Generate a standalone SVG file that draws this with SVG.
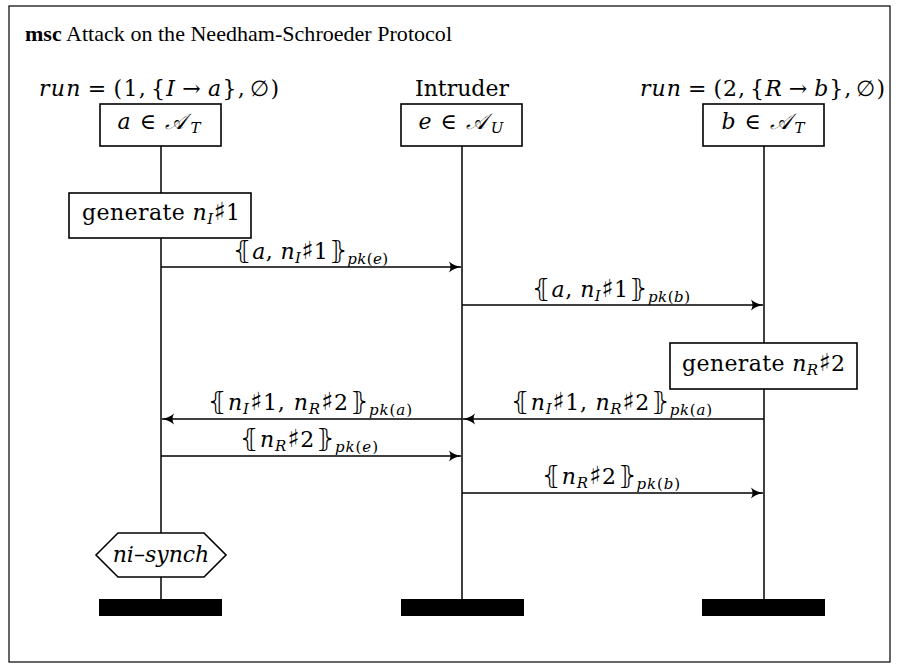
<svg xmlns="http://www.w3.org/2000/svg" width="902" height="666" viewBox="0 0 902 666">
<defs>
<marker id="arr" markerUnits="userSpaceOnUse" markerWidth="16" markerHeight="14" viewBox="-14 -7 16 14" refX="0" refY="0" orient="auto" overflow="visible">
<path d="M-12,-5.5 C-8,-2.2 -4,-0.7 0,0 C-4,0.7 -8,2.2 -12,5.5 C-10,2 -10,-2 -12,-5.5 Z" fill="#000"/>
</marker>
</defs>
<style>
text{font-family:"DejaVu Serif","Liberation Serif",serif;font-size:22px;fill:#000}
.title{font-family:"Liberation Serif","DejaVu Serif",serif}
.i{font-style:italic}
.s{font-size:15px}
.sh{font-family:"DejaVu Sans",sans-serif;font-size:25px}
.br{font-size:25px}
.box{fill:#fff;stroke:#000;stroke-width:1.6}
.life{stroke:#000;stroke-width:1.5;fill:none}
.msg{stroke:#000;stroke-width:1.5;fill:none;marker-end:url(#arr)}
.bar{fill:#000}
</style>
<rect x="9" y="6" width="881" height="656" fill="#fff" stroke="#000" stroke-width="1.2"/>
<text class="title" x="25" y="41" textLength="427" lengthAdjust="spacing"><tspan font-weight="bold">msc</tspan> Attack on the Needham-Schroeder Protocol</text>

<g id="lifelines">
<line class="life" x1="161" y1="146" x2="161" y2="600"/>
<line class="life" x1="462" y1="146" x2="462" y2="600"/>
<line class="life" x1="764" y1="146" x2="764" y2="600"/>
</g>

<g id="node-a">
<text x="159" y="96" text-anchor="middle" textLength="240" lengthAdjust="spacing"><tspan class="i">run</tspan><tspan dx="6">=</tspan><tspan dx="6">(1,</tspan><tspan dx="4">{</tspan><tspan class="i">I</tspan><tspan dx="6">→</tspan><tspan dx="6" class="i">a</tspan>},<tspan dx="4">∅)</tspan></text>
<rect class="box" x="100" y="104" width="121" height="42"/>
<text x="159" y="129" text-anchor="middle" textLength="83" lengthAdjust="spacing"><tspan class="i">a</tspan><tspan dx="5">∈</tspan><tspan dx="5" class="i">𝒜</tspan><tspan class="i s" dy="4">T</tspan></text>
<rect class="bar" x="99" y="599" width="123" height="17"/>
</g>

<g id="node-e">
<text x="462" y="96" text-anchor="middle">Intruder</text>
<rect class="box" x="401" y="104" width="121" height="42"/>
<text x="461" y="129" text-anchor="middle" textLength="85" lengthAdjust="spacing"><tspan class="i">e</tspan><tspan dx="5">∈</tspan><tspan dx="5" class="i">𝒜</tspan><tspan class="i s" dy="4">U</tspan></text>
<rect class="bar" x="401" y="599" width="123" height="17"/>
</g>

<g id="node-b">
<text x="762.5" y="96" text-anchor="middle" textLength="245" lengthAdjust="spacing"><tspan class="i">run</tspan><tspan dx="6">=</tspan><tspan dx="6">(2,</tspan><tspan dx="4">{</tspan><tspan class="i">R</tspan><tspan dx="6">→</tspan><tspan dx="6" class="i">b</tspan>},<tspan dx="4">∅)</tspan></text>
<rect class="box" x="703" y="104" width="121" height="42"/>
<text x="763" y="129" text-anchor="middle" textLength="83" lengthAdjust="spacing"><tspan class="i">b</tspan><tspan dx="5">∈</tspan><tspan dx="5" class="i">𝒜</tspan><tspan class="i s" dy="4">T</tspan></text>
<rect class="bar" x="702" y="599" width="123" height="17"/>
</g>

<g id="gen-nI">
<rect class="box" x="69" y="193" width="182" height="45"/>
<text x="161" y="220" text-anchor="middle" textLength="158" lengthAdjust="spacing">generate <tspan class="i">n</tspan><tspan class="i s" dy="4">I</tspan><tspan class="sh" dy="-4">♯</tspan>1</text>
</g>

<g id="gen-nR">
<rect class="box" x="670" y="343" width="187" height="46"/>
<text x="763.5" y="371" text-anchor="middle" textLength="163" lengthAdjust="spacing">generate <tspan class="i">n</tspan><tspan class="i s" dy="4">R</tspan><tspan class="sh" dy="-4">♯</tspan>2</text>
</g>

<g id="ni-synch">
<polygon class="box" points="96,555 118,533 204,533 226,555 204,577 118,577"/>
<text x="161" y="562" text-anchor="middle" class="i">ni–synch</text>
</g>

<g id="connectors">
<line class="msg" x1="161" y1="267" x2="461" y2="267"/>
<line class="msg" x1="462" y1="305" x2="763" y2="305"/>
<line class="msg" x1="764" y1="419" x2="463" y2="419"/>
<line class="msg" x1="462" y1="419" x2="162" y2="419"/>
<line class="msg" x1="161" y1="456" x2="461" y2="456"/>
<line class="msg" x1="462" y1="493" x2="763" y2="493"/>
</g>

<g id="labels">
<text x="310.5" y="259" text-anchor="middle" textLength="155" lengthAdjust="spacing"><tspan class="br">⦃</tspan><tspan class="i" dx="1">a</tspan>, <tspan class="i">n</tspan><tspan class="i s" dy="4">I</tspan><tspan class="sh" dy="-4">♯</tspan>1<tspan class="br" dx="1">⦄</tspan><tspan class="i s" dy="5">pk</tspan><tspan class="s">(</tspan><tspan class="i s">e</tspan><tspan class="s">)</tspan></text>
<text x="611" y="297" text-anchor="middle" textLength="158" lengthAdjust="spacing"><tspan class="br">⦃</tspan><tspan class="i" dx="1">a</tspan>, <tspan class="i">n</tspan><tspan class="i s" dy="4">I</tspan><tspan class="sh" dy="-4">♯</tspan>1<tspan class="br" dx="1">⦄</tspan><tspan class="i s" dy="5">pk</tspan><tspan class="s">(</tspan><tspan class="i s">b</tspan><tspan class="s">)</tspan></text>
<text x="611.5" y="410" text-anchor="middle" textLength="201" lengthAdjust="spacing"><tspan class="br">⦃</tspan><tspan class="i" dx="1">n</tspan><tspan class="i s" dy="4">I</tspan><tspan class="sh" dy="-4">♯</tspan>1, <tspan class="i">n</tspan><tspan class="i s" dy="4">R</tspan><tspan class="sh" dy="-4">♯</tspan>2<tspan class="br" dx="1">⦄</tspan><tspan class="i s" dy="5">pk</tspan><tspan class="s">(</tspan><tspan class="i s">a</tspan><tspan class="s">)</tspan></text>
<text x="310" y="410" text-anchor="middle" textLength="204" lengthAdjust="spacing"><tspan class="br">⦃</tspan><tspan class="i" dx="1">n</tspan><tspan class="i s" dy="4">I</tspan><tspan class="sh" dy="-4">♯</tspan>1, <tspan class="i">n</tspan><tspan class="i s" dy="4">R</tspan><tspan class="sh" dy="-4">♯</tspan>2<tspan class="br" dx="1">⦄</tspan><tspan class="i s" dy="5">pk</tspan><tspan class="s">(</tspan><tspan class="i s">a</tspan><tspan class="s">)</tspan></text>
<text x="309" y="447" text-anchor="middle" textLength="138" lengthAdjust="spacing"><tspan class="br">⦃</tspan><tspan class="i" dx="1">n</tspan><tspan class="i s" dy="4">R</tspan><tspan class="sh" dy="-4">♯</tspan>2<tspan class="br" dx="1">⦄</tspan><tspan class="i s" dy="5">pk</tspan><tspan class="s">(</tspan><tspan class="i s">e</tspan><tspan class="s">)</tspan></text>
<text x="611" y="484" text-anchor="middle" textLength="138" lengthAdjust="spacing"><tspan class="br">⦃</tspan><tspan class="i" dx="1">n</tspan><tspan class="i s" dy="4">R</tspan><tspan class="sh" dy="-4">♯</tspan>2<tspan class="br" dx="1">⦄</tspan><tspan class="i s" dy="5">pk</tspan><tspan class="s">(</tspan><tspan class="i s">b</tspan><tspan class="s">)</tspan></text>
</g>
</svg>
